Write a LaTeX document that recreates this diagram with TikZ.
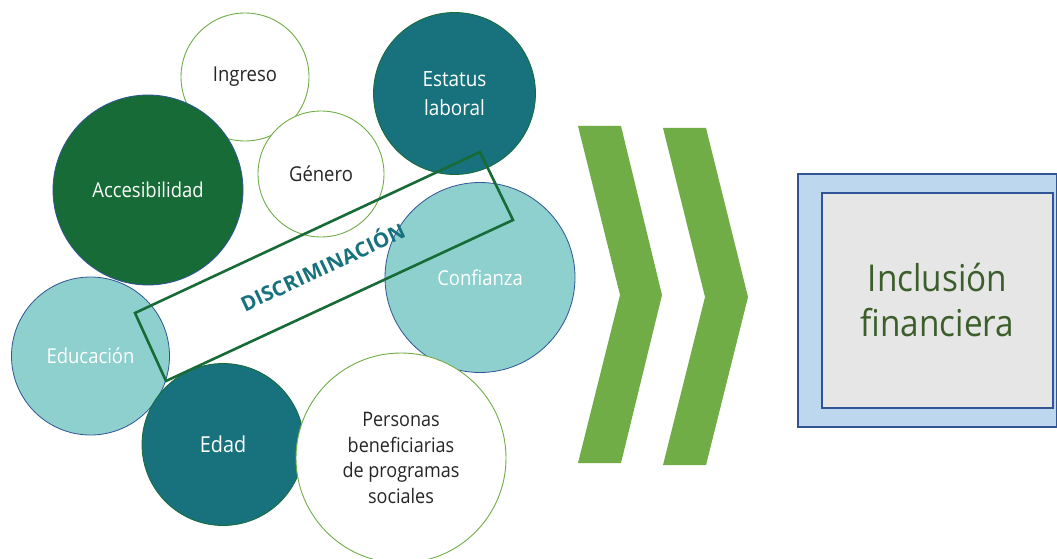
\documentclass[tikz,border=0pt]{standalone}
\usepackage{fontspec}
\setmainfont{Open Sans}[FakeStretch=0.9]
\newfontfamily\discfont{Open Sans}[LetterSpace=1]
\definecolor{dkgreen}{HTML}{176B37}
\definecolor{tealc}{HTML}{17727D}
\definecolor{ltteal}{HTML}{8ED0CD}
\definecolor{navy}{HTML}{2F5597}
\definecolor{lgreen}{HTML}{70AD47}
\definecolor{boxblue}{HTML}{BDD7EE}
\definecolor{boxgrey}{HTML}{E6E6E6}
\definecolor{txtgreen}{HTML}{3B5E2B}
\definecolor{dtext}{HTML}{262626}
\begin{document}
\begin{tikzpicture}[x=1pt,y=-1pt,
  bub/.style={circle, inner sep=0pt, align=center, font=\fontsize{20.5}{28}\selectfont},
  whitebub/.style={bub, draw=lgreen, line width=0.9pt, fill=white, text=dtext},
  darkbub/.style={bub, draw=dkgreen, line width=0.8pt, fill=tealc, text=white},
  greenbub/.style={bub, draw=navy, line width=0.8pt, fill=dkgreen, text=white},
  lightbub/.style={bub, draw=navy, line width=0.8pt, fill=ltteal, text=white},
  chev/.style={fill=lgreen, draw=none},
  frame/.style={draw=dkgreen, line width=2.6pt, line join=miter},
  discr/.style={text=tealc, font=\discfont\bfseries\fontsize{20.5}{23}\selectfont}
]
\useasboundingbox (0,0) rectangle (1057,559);
\fill[white] (0,0) rectangle (1057,559);

\node[whitebub, minimum size=128pt] (ingreso) at (245,77) {Ingreso};
\node[whitebub, minimum size=126pt] (genero) at (321,174) {Género};
\node[greenbub, minimum size=190pt] (acces) at (148,190) {Accesibilidad};
\node[darkbub, minimum size=162pt, font=\fontsize{21}{29}\selectfont] (estatus) at (454.5,93.5) {Estatus\\laboral};
\node[lightbub, minimum size=190pt] (confianza) at (480,277.5) {Confianza};
\node[lightbub, minimum size=158pt] (educacion) at (90.5,356) {Educación};
\node[darkbub, minimum size=162pt, font=\fontsize{22}{28}\selectfont] (edad) at (223,444.5) {Edad};
\node[whitebub, minimum size=210pt, font=\fontsize{20}{25.7}\selectfont] (personas) at (401,458) {Personas\\beneficiarias\\de programas\\sociales};

\coordinate (ra) at (135,313);
\coordinate (rb) at (480,152);
\coordinate (rc) at (513,220);
\coordinate (rd) at (166,381);
\draw[frame] (ra) -- (rb) -- (rc) -- (rd) -- cycle;
\node[discr, rotate=25] (disc) at (322,266) {DISCRIMINACIÓN};

\fill[chev] (578,126) -- (621,126) -- (662,295) -- (621,463) -- (578,463) -- (620,295) -- cycle;
\fill[chev] (663,128) -- (706,128) -- (748,297) -- (706,465) -- (663,465) -- (705,297) -- cycle;

\draw[draw=navy, fill=boxblue, line width=1.2pt] (798,174) rectangle (1056.4,427);
\node[draw=navy, fill=boxgrey, line width=1.2pt, minimum width=231pt, minimum height=215pt,
  inner sep=0pt, align=center, text=txtgreen, font=\fontsize{37}{45}\selectfont]
  (inclusion) at (937.5,300.5) {Inclusión\\financiera};
\end{tikzpicture}
\end{document}
